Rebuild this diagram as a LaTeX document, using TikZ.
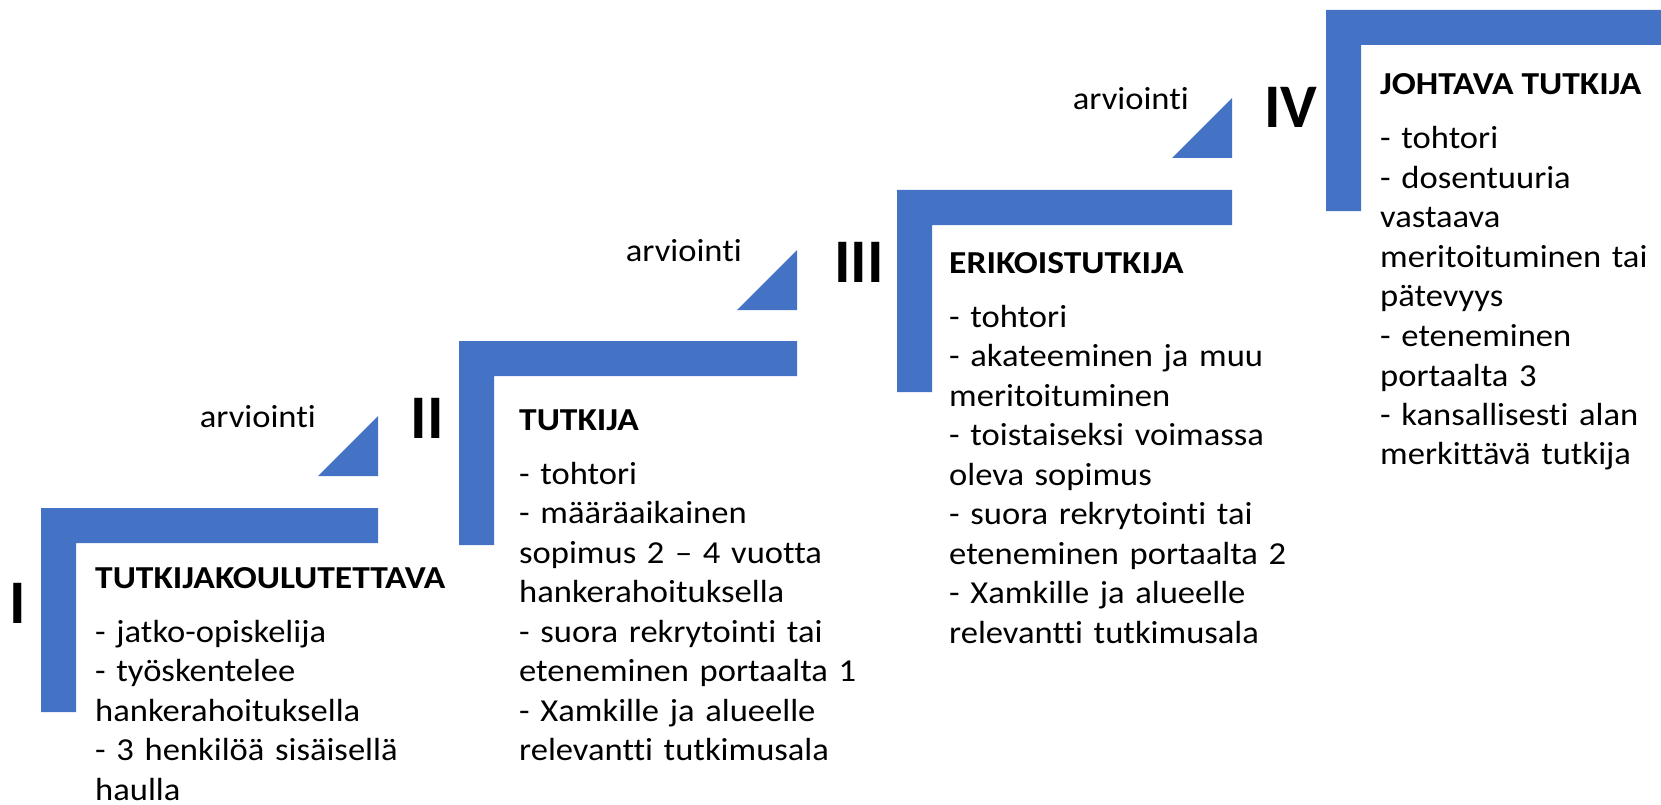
\documentclass[tikz,border=0pt]{standalone}
\usepackage{fontspec}
\setmainfont{Carlito}[Ligatures=NoCommon,FakeStretch=1.08,BoldFeatures={FakeStretch=1.11}]
\newfontfamily\numeralfont{Carlito}[Ligatures=NoCommon]
\usetikzlibrary{positioning}
\definecolor{stepblue}{HTML}{4472C4}
\tikzstyle{stepfill}=[fill=stepblue,draw=none]
\tikzstyle{numeral}=[font=\numeralfont\bfseries\fontsize{62}{64}\selectfont,inner sep=0pt]
\tikzstyle{evaltext}=[font=\fontsize{32}{39.5}\selectfont,inner sep=0pt,anchor=base east]
\tikzstyle{steptitle}=[font=\bfseries\fontsize{32}{39.5}\selectfont,inner sep=0pt,anchor=base west]
\tikzstyle{steptext}=[font=\fontsize{32}{39.5}\selectfont,inner sep=0pt,text width=360pt,align=left]
\newcommand{\drawstair}[4]{% Syntax: {left}{top}{right}{bottom} of one stair, bar 35 wide
\fill[stepfill] (#1,#2) -- (#3,#2) -- (#3,#2+35) -- (#1+35,#2+35) -- (#1+35,#4) -- (#1,#4) -- cycle;
}
\newcommand{\drawwedge}[2]{% Syntax: {x}{y} of the right corner of the bottom edge
\fill[stepfill] (#1,#2) -- (#1,#2-60) -- (#1-60,#2) -- cycle;
}
\begin{document}
\begin{tikzpicture}[x=1pt,y=-1pt]
  \useasboundingbox (0,0) rectangle (1661,805);
  % the four stairs
  \drawstair{41}{508}{378}{712}
  \drawstair{459}{341}{797}{545}
  \drawstair{897}{190}{1232}{392}
  \drawstair{1326}{10}{1661}{211}
  % the wedges between them
  \drawwedge{378}{476}
  \drawwedge{797}{310}
  \drawwedge{1232}{158}
  \node[evaltext] (eval1) at (316,427) {arviointi};
  \node[evaltext] (eval2) at (742,261) {arviointi};
  \node[evaltext] (eval3) at (1189,110) {arviointi};
  % numerals
  \node[numeral] (num1) at (18,603) {I};
  \node[numeral] (num2) at (427,418) {II};
  \node[numeral] (num3) at (859,262) {III};
  \node[numeral] (num4) at (1291,107) {IV};
  % stage texts
  \node[steptitle] (title1) at (95,588) {TUTKIJAKOULUTETTAVA};
  \node[steptext,below=54pt of title1.base west,anchor=base west] (body1)
    {- jatko-opiskelija\\- työskentelee\\hankerahoituksella\\- 3 henkilöä sisäisellä\\haulla};
  \node[steptitle] (title2) at (519,430) {TUTKIJA};
  \node[steptext,below=54pt of title2.base west,anchor=base west] (body2)
    {- tohtori\\- määräaikainen\\sopimus 2 – 4 vuotta\\hankerahoituksella\\- suora rekrytointi tai\\eteneminen portaalta 1\\- Xamkille ja alueelle\\relevantti tutkimusala};
  \node[steptitle] (title3) at (949,273) {ERIKOISTUTKIJA};
  \node[steptext,below=54pt of title3.base west,anchor=base west] (body3)
    {- tohtori\\- akateeminen ja muu\\meritoituminen\\- toistaiseksi voimassa\\oleva sopimus\\- suora rekrytointi tai\\eteneminen portaalta 2\\- Xamkille ja alueelle\\relevantti tutkimusala};
  \node[steptitle] (title4) at (1380,95) {JOHTAVA TUTKIJA};
  \node[steptext,below=54pt of title4.base west,anchor=base west] (body4)
    {- tohtori\\- dosentuuria\\vastaava\\meritoituminen tai\\pätevyys\\- eteneminen\\portaalta 3\\- kansallisesti alan\\merkittävä tutkija};
\end{tikzpicture}
\end{document}
